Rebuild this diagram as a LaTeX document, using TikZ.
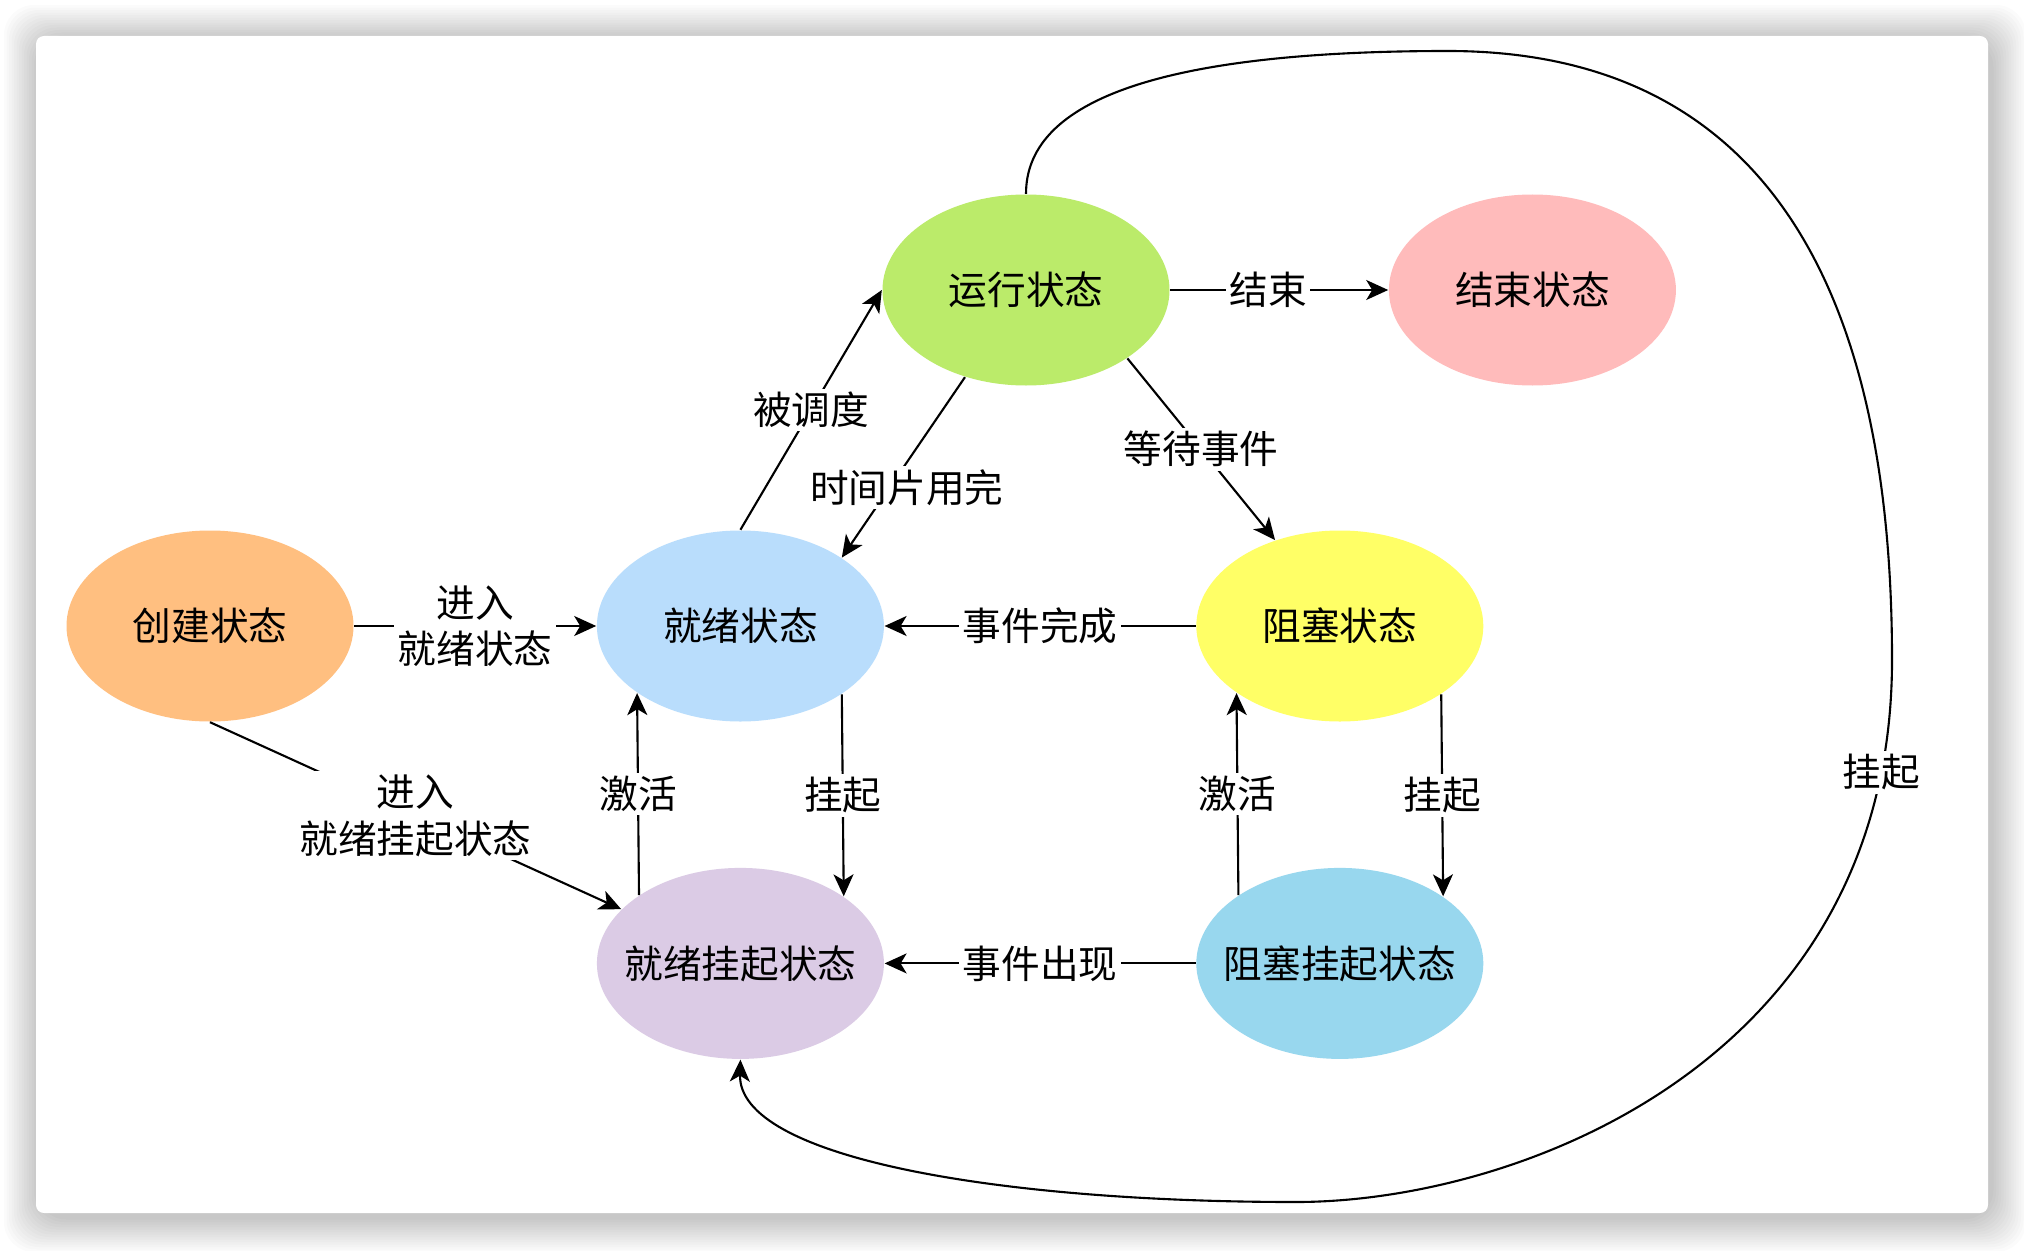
\documentclass[tikz,border=0pt]{standalone}
\usepackage{fontspec}
\newfontfamily\cjkfont{Noto Sans CJK SC}
\usepackage{xcolor}
\usetikzlibrary{arrows.meta,positioning,shapes.geometric}

\definecolor{createC}{HTML}{FFBF80}
\definecolor{readyC}{HTML}{B9DDFC}
\definecolor{runC}{HTML}{BBEB6A}
\definecolor{doneC}{HTML}{FFBBBB}
\definecolor{blockC}{HTML}{FFFF66}
\definecolor{rsusC}{HTML}{DBCBE5}
\definecolor{bsusC}{HTML}{98D7EE}

\begin{document}
\begin{tikzpicture}[
  font=\cjkfont\fontsize{11}{13.2}\selectfont,
  state/.style={ellipse, minimum width=2.87cm, minimum height=1.91cm, inner xsep=-0.5cm, inner ysep=0pt},
  arr/.style={-{Stealth[length=2.2mm, width=2mm, inset=0.6mm]}, line width=0.6pt},
  lbl/.style={fill=white, inner sep=1pt, align=center}
]
% page, shadow and card
\useasboundingbox (0,0) rectangle (20.24,-12.50);
\fill[white] (0,0) rectangle (20.24,-12.50);
\foreach \d in {1,...,14}
  \fill[black, opacity=0.014, rounded corners=0.3cm] (0.39-\d*0.025,-0.40+\d*0.025) rectangle (19.91+\d*0.025,-12.17-\d*0.025);
\fill[white, rounded corners=0.08cm] (0.36,-0.36) rectangle (19.88,-12.13);

% states
\node[state, fill=createC] (create) at (2.10,-6.26) {创建状态};
\node[state, fill=readyC, right=2.42cm of create] (ready) {就绪状态};
\node[state, fill=blockC, right=3.11cm of ready] (blocked) {阻塞状态};
\node[state, fill=runC] (running) at (10.26,-2.90) {运行状态};
\node[state, fill=doneC, right=2.18cm of running] (done) {结束状态};
\node[state, fill=rsusC, below=1.45cm of ready] (readysus) {就绪挂起状态};
\node[state, fill=bsusC, below=1.45cm of blocked] (blocksus) {阻塞挂起状态};

% transitions
\draw[arr] (create) -- node[lbl] {进入\\就绪状态} (ready);
\draw[arr] (create.south) -- node[lbl] {进入\\就绪挂起状态} (readysus);
\draw[arr] (ready.north) -- node[lbl] {被调度} (running.west);
\draw[arr] (running.235.5) -- node[lbl, pos=0.61, xshift=0.17cm] {时间片用完} (ready.34.5);
\draw[arr] (running.326.4) -- node[lbl] {等待事件} (blocked.127.8);
\draw[arr] (running) -- node[lbl, pos=0.45] {结束} (done);
\draw[arr] (blocked) -- node[lbl] {事件完成} (ready);
\draw[arr] (readysus.146.7) -- node[lbl] {激活} (ready.213.3);
\draw[arr] (ready.326.7) -- node[lbl] {挂起} (readysus.33.3);
\draw[arr] (blocksus.146.7) -- node[lbl] {激活} (blocked.213.3);
\draw[arr] (blocked.326.7) -- node[lbl] {挂起} (blocksus.33.3);
\draw[arr] (blocksus) -- node[lbl] {事件出现} (readysus);

% long way round
\draw[arr] (running.north) .. controls (10.26,-1.05) and (11.48,-0.51) .. (14.48,-0.51)
  .. controls (17.38,-0.51) and (18.92,-2.50) .. (18.92,-6.60)
  .. controls (18.92,-10.60) and (15.20,-12.02) .. (12.96,-12.02) node[lbl, pos=0.1] {挂起}
  .. controls (9.96,-12.02) and (7.38,-11.575) .. (readysus.south);
\end{tikzpicture}
\end{document}
